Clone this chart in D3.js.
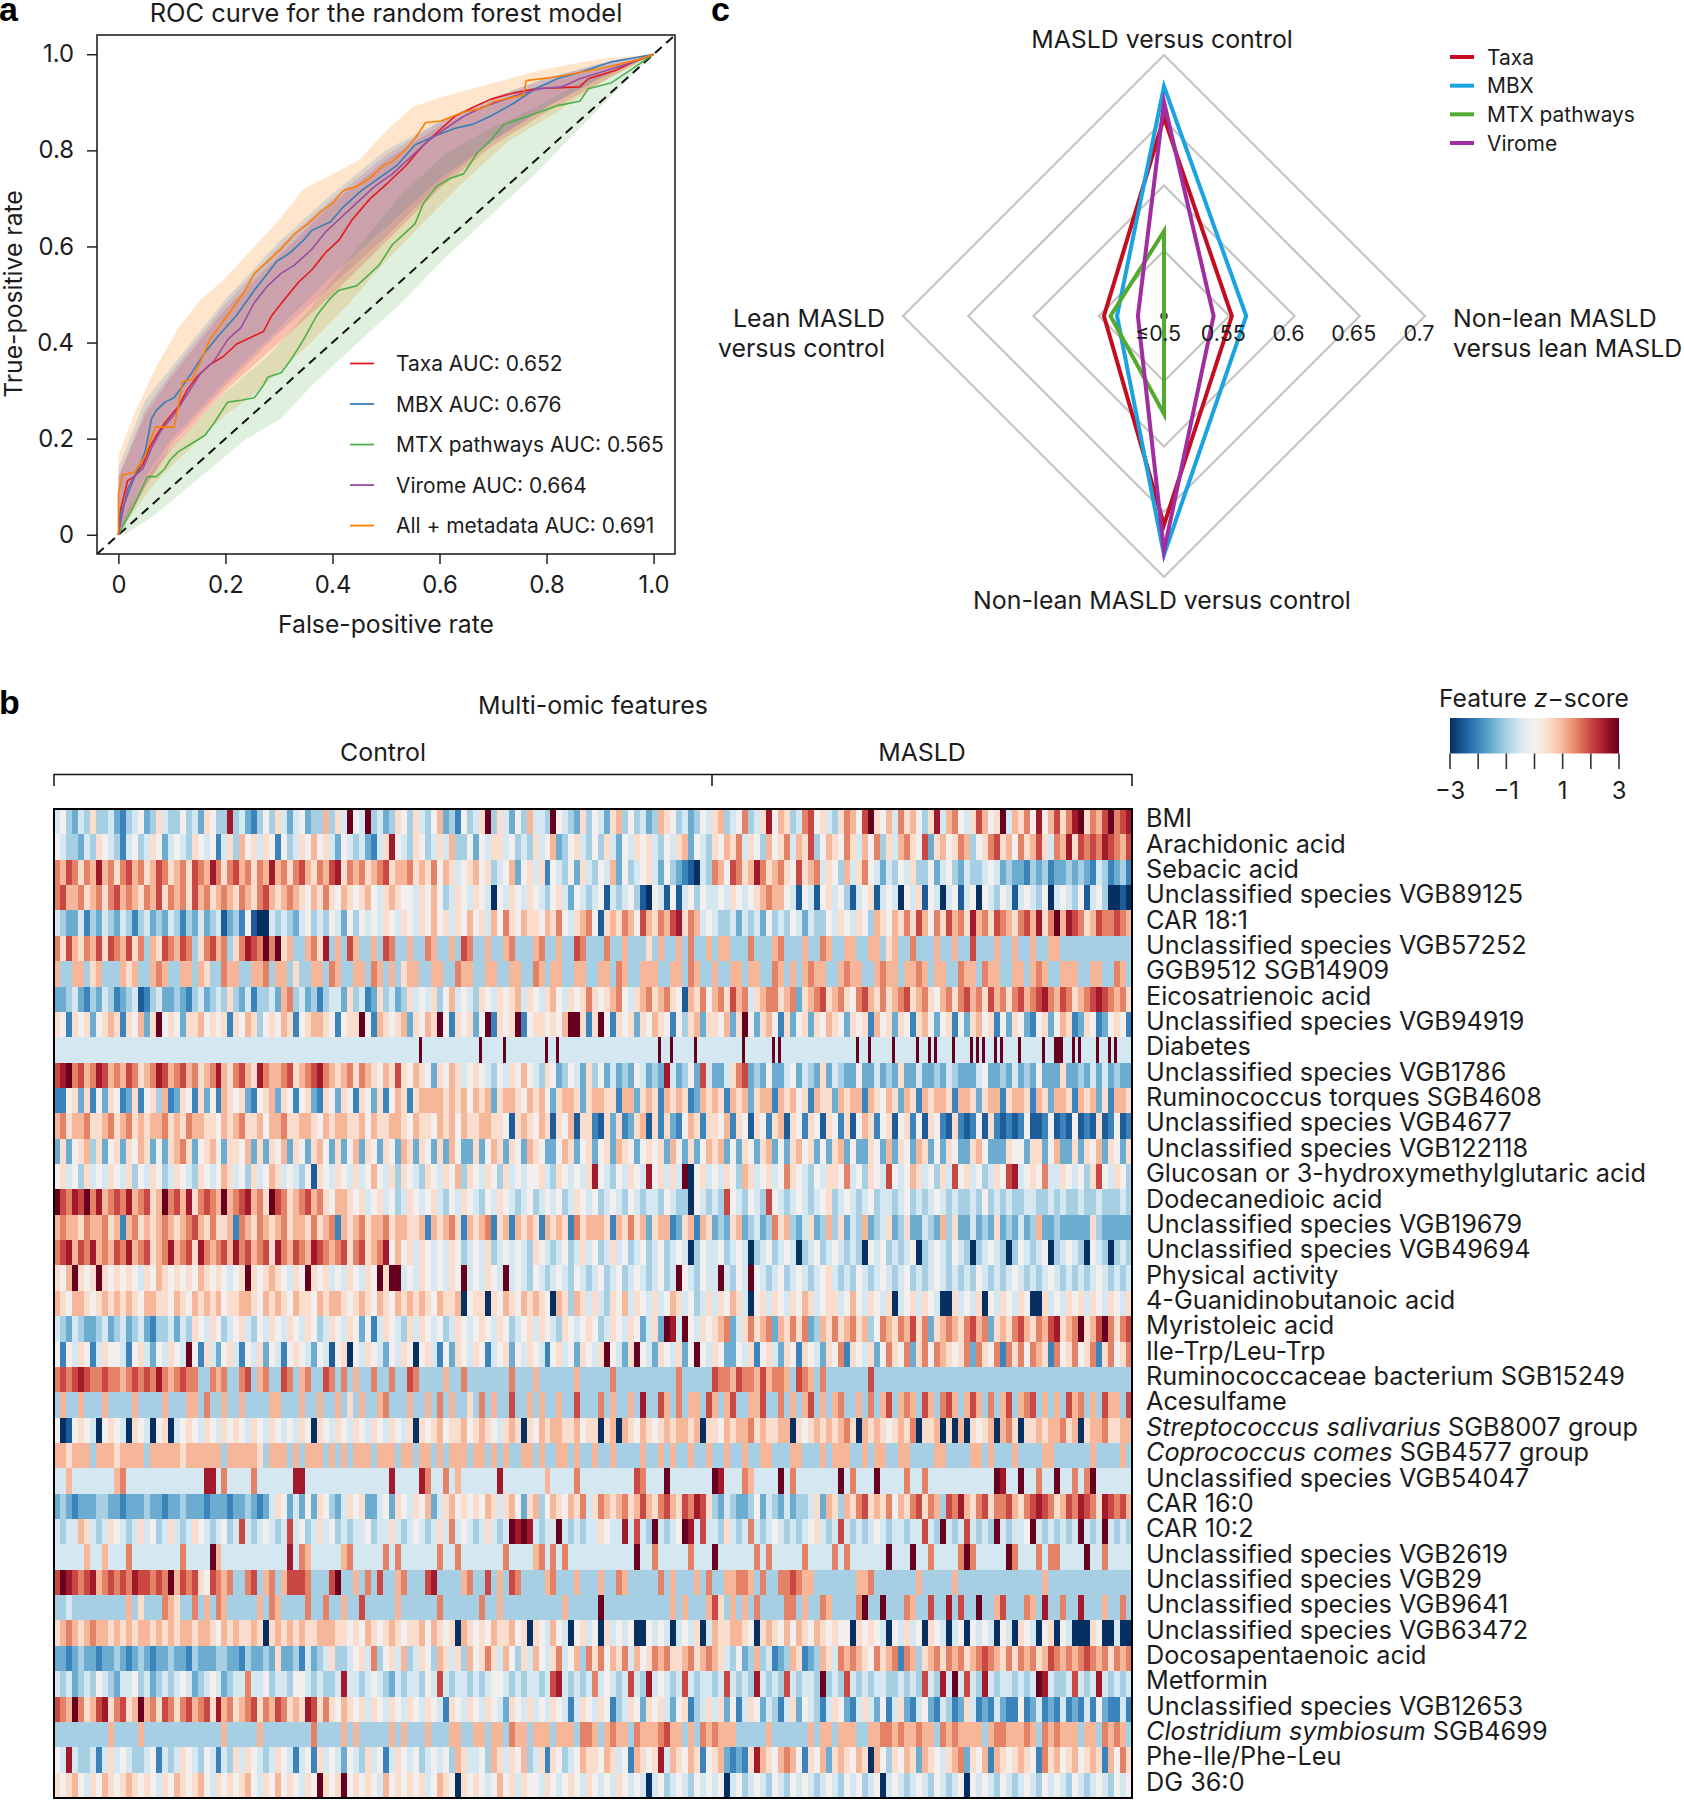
<!DOCTYPE html>
<html><head><meta charset="utf-8">
<script src="https://cdn.jsdelivr.net/npm/d3@7"></script>
<style>
body{margin:0;background:#fff}
svg{display:block}
text{font-family:Inter,"Noto Sans","Liberation Sans",sans-serif;fill:#1c1c1c}
</style>
</head><body>
<svg id="chart" width="1684" height="1800"></svg>
<script>
// ---------------- Panel a: ROC data ----------------
const rocTicks = [0, 0.2, 0.4, 0.6, 0.8, 1.0];
const rocTickLabels = ["0", "0.2", "0.4", "0.6", "0.8", "1.0"];
const rocSeries = ["Taxa", "MBX", "MTX pathways", "Virome", "All + metadata"];
const rocAUC = [0.652, 0.676, 0.565, 0.664, 0.691];
const rocColors = ["#e41a1c", "#377eb8", "#4daf4a", "#984ea3", "#ff7f00"];

const taxaCurve = [[0,0],[0.004,0.052],[0.017,0.112],[0.029,0.121],[0.046,0.147],[0.058,0.181],[0.071,0.207],[0.087,0.233],[0.112,0.267],[0.129,0.302],[0.146,0.328],[0.171,0.354],[0.196,0.371],[0.221,0.397],[0.246,0.41],[0.271,0.423],[0.287,0.457],[0.312,0.492],[0.337,0.526],[0.362,0.552],[0.387,0.587],[0.412,0.613],[0.437,0.656],[0.47,0.699],[0.504,0.733],[0.537,0.768],[0.57,0.811],[0.604,0.846],[0.629,0.871],[0.662,0.889],[0.695,0.906],[0.737,0.919],[0.779,0.928],[0.862,0.932],[0.878,0.949],[0.928,0.966],[0.962,0.984],[1,1]];
const mbxCurve = [[0,0],[0.004,0.043],[0.021,0.095],[0.037,0.138],[0.05,0.173],[0.062,0.242],[0.071,0.259],[0.087,0.276],[0.104,0.285],[0.121,0.311],[0.137,0.337],[0.162,0.38],[0.187,0.414],[0.221,0.457],[0.254,0.509],[0.279,0.544],[0.296,0.569],[0.321,0.587],[0.346,0.613],[0.362,0.634],[0.396,0.651],[0.42,0.682],[0.454,0.716],[0.487,0.742],[0.52,0.768],[0.554,0.811],[0.587,0.828],[0.629,0.846],[0.662,0.854],[0.695,0.871],[0.737,0.897],[0.779,0.928],[0.82,0.949],[0.862,0.962],[0.92,0.984],[0.962,0.992],[1,1]];
const mtxCurve = [[0,0],[0.008,0.017],[0.029,0.06],[0.054,0.121],[0.071,0.121],[0.087,0.138],[0.096,0.155],[0.112,0.173],[0.137,0.19],[0.162,0.207],[0.179,0.233],[0.204,0.276],[0.229,0.28],[0.254,0.285],[0.271,0.311],[0.279,0.328],[0.304,0.337],[0.321,0.362],[0.346,0.406],[0.371,0.457],[0.396,0.492],[0.412,0.509],[0.445,0.518],[0.462,0.535],[0.487,0.561],[0.512,0.604],[0.529,0.621],[0.554,0.647],[0.57,0.69],[0.595,0.725],[0.62,0.742],[0.645,0.751],[0.67,0.794],[0.695,0.82],[0.72,0.854],[0.754,0.867],[0.787,0.88],[0.82,0.893],[0.862,0.902],[0.878,0.928],[0.92,0.94],[0.962,0.971],[1,1]];
const viromeCurve = [[0,0],[0.004,0.026],[0.017,0.095],[0.029,0.121],[0.046,0.138],[0.062,0.181],[0.079,0.216],[0.104,0.25],[0.129,0.293],[0.154,0.337],[0.179,0.362],[0.204,0.406],[0.229,0.431],[0.254,0.483],[0.279,0.518],[0.304,0.544],[0.329,0.561],[0.362,0.595],[0.387,0.63],[0.412,0.656],[0.445,0.69],[0.479,0.725],[0.512,0.751],[0.545,0.785],[0.579,0.82],[0.612,0.846],[0.645,0.871],[0.679,0.889],[0.712,0.902],[0.745,0.915],[0.787,0.928],[0.828,0.932],[0.862,0.949],[0.912,0.966],[0.962,0.984],[1,1]];
const allCurve = [[0,0],[0,0.086],[0.008,0.125],[0.03,0.13],[0.04,0.147],[0.05,0.164],[0.06,0.198],[0.07,0.224],[0.104,0.224],[0.112,0.267],[0.12,0.319],[0.137,0.323],[0.154,0.362],[0.171,0.406],[0.187,0.431],[0.204,0.457],[0.221,0.483],[0.237,0.509],[0.254,0.544],[0.279,0.569],[0.304,0.595],[0.329,0.626],[0.354,0.647],[0.379,0.673],[0.4,0.69],[0.42,0.716],[0.445,0.725],[0.47,0.742],[0.495,0.768],[0.512,0.777],[0.533,0.798],[0.554,0.824],[0.574,0.858],[0.603,0.861],[0.645,0.88],[0.678,0.887],[0.703,0.902],[0.757,0.915],[0.762,0.945],[0.82,0.953],[0.862,0.962],[0.92,0.975],[0.97,0.988],[1,1]];

const taxaBandUpper = [[0,0.12],[0.05,0.25],[0.1,0.33],[0.2,0.47],[0.3,0.58],[0.4,0.69],[0.5,0.78],[0.6,0.85],[0.7,0.9],[0.8,0.94],[0.9,0.97],[1,1]];
const taxaBandLower = [[0,0],[0.05,0.1],[0.1,0.18],[0.2,0.3],[0.3,0.4],[0.4,0.5],[0.5,0.61],[0.6,0.72],[0.7,0.81],[0.8,0.88],[0.9,0.94],[1,1]];
const mbxBandUpper = [[0,0.14],[0.05,0.28],[0.1,0.35],[0.2,0.49],[0.3,0.61],[0.4,0.71],[0.5,0.8],[0.6,0.86],[0.7,0.91],[0.8,0.95],[0.9,0.98],[1,1]];
const mbxBandLower = [[0,0],[0.05,0.12],[0.1,0.2],[0.2,0.32],[0.3,0.43],[0.4,0.54],[0.5,0.64],[0.6,0.74],[0.7,0.82],[0.8,0.89],[0.9,0.95],[1,1]];
const mtxBandUpper = [[0,0.02],[0.07,0.147],[0.129,0.216],[0.196,0.293],[0.279,0.371],[0.362,0.475],[0.445,0.595],[0.529,0.708],[0.612,0.794],[0.695,0.846],[0.779,0.889],[0.862,0.94],[1,1]];
const mtxBandLower = [[0.012,0],[0.07,0.043],[0.154,0.121],[0.237,0.198],[0.304,0.242],[0.362,0.311],[0.445,0.397],[0.529,0.483],[0.612,0.578],[0.695,0.664],[0.779,0.751],[0.862,0.846],[0.945,0.94],[1,1]];
const viromeBandUpper = [[0,0.12],[0.05,0.26],[0.1,0.34],[0.2,0.48],[0.3,0.6],[0.4,0.7],[0.5,0.79],[0.6,0.86],[0.7,0.91],[0.8,0.95],[0.9,0.98],[1,1]];
const viromeBandLower = [[0,0],[0.05,0.1],[0.1,0.19],[0.2,0.31],[0.3,0.42],[0.4,0.52],[0.5,0.62],[0.6,0.73],[0.7,0.82],[0.8,0.89],[0.9,0.95],[1,1]];
const allBandUpper = [[0,0.164],[0.029,0.25],[0.071,0.35],[0.112,0.43],[0.154,0.49],[0.196,0.53],[0.246,0.59],[0.296,0.65],[0.346,0.72],[0.4,0.75],[0.45,0.78],[0.5,0.84],[0.55,0.89],[0.6,0.91],[0.7,0.94],[0.8,0.97],[0.9,0.99],[1,1]];
const allBandLower = [[0,0],[0.03,0.05],[0.07,0.11],[0.11,0.155],[0.154,0.2],[0.2,0.25],[0.246,0.285],[0.3,0.34],[0.36,0.4],[0.43,0.48],[0.5,0.57],[0.57,0.65],[0.65,0.74],[0.73,0.82],[0.82,0.88],[0.9,0.94],[1,1]];

// ---------------- Panel c: radar data ----------------
const radarAxes = ["MASLD versus control", "Non-lean MASLD versus lean MASLD", "Non-lean MASLD versus control", "Lean MASLD versus control"];
const radarSeries = ["Taxa", "MBX", "MTX pathways", "Virome"];
const radarTaxa = [0.652, 0.552, 0.660, 0.546];
const radarMBX = [0.676, 0.563, 0.683, 0.536];
const radarMTX = [0.565, 0.500, 0.575, 0.541];
const radarVirome = [0.664, 0.538, 0.680, 0.520];
const radarColors = ["#c40d1e", "#1ba3df", "#52ab2e", "#a02ea0"];
const radarRings = [0.55, 0.6, 0.65, 0.7];
const radarRingTicks = [0.5, 0.55, 0.6, 0.65, 0.7];
const radarRingLabels = ["≤0.5", "0.55", "0.6", "0.65", "0.7"];

// ---------------- Panel b: heatmap data ----------------
// z-score codes: a=-3, b=-2.5, c=-2, d=-1.5, e=-1, f=-0.5, g=0, h=0.5, i=1, j=1.5, k=2, l=2.5, m=3
const groups = ["Control", "MASLD"];
const colorTicks = [-3, -2, -1, 0, 1, 2, 3];
const colorTickLabels = ["−3", "", "−1", "", "1", "", "3"];
const italicNames = ["Streptococcus salivarius", "Coprococcus comes", "Clostridium symbiosum"];
const heatRows = ["BMI","Arachidonic acid","Sebacic acid","Unclassified species VGB89125","CAR 18:1","Unclassified species VGB57252","GGB9512 SGB14909","Eicosatrienoic acid","Unclassified species VGB94919","Diabetes","Unclassified species VGB1786","Ruminococcus torques SGB4608","Unclassified species VGB4677","Unclassified species VGB122118","Glucosan or 3-hydroxymethylglutaric acid","Dodecanedioic acid","Unclassified species VGB19679","Unclassified species VGB49694","Physical activity","4-Guanidinobutanoic acid","Myristoleic acid","Ile-Trp/Leu-Trp","Ruminococcaceae bacterium SGB15249","Acesulfame","Streptococcus salivarius SGB8007 group","Coprococcus comes SGB4577 group","Unclassified species VGB54047","CAR 16:0","CAR 10:2","Unclassified species VGB2619","Unclassified species VGB29","Unclassified species VGB9641","Unclassified species VGB63472","Docosapentaenoic acid","Metformin","Unclassified species VGB12653","Clostridium symbiosum SGB4699","Phe-Ile/Phe-Leu","DG 36:0"];
const heatControl = [
"fgedfeheef dcefgdehfe egefdhgeel efdcegehfd fgdeeiehfm gfmefdehge hfegidecge fhmehfdgei ffemgfedhe gfdhiegefd eihgefdegf",
"gfeedfehgf ecfgefhgdf gfehgfgcfh eighfhgcge fhgighfdgf efdcfhlgfe hgefhfieeg dgfhhfgefe hfgideghfe gehfdgfhgh fegfhidgfe",
"jikjhjilij hjkijhikjh ijhkjiljhj kijhjilijh jkihjiklhj ijhijkhiij hihjgihfgh ighefgidgh fhcgfegdhf egfidgefgh fdgedcbafe",
"jkiijhijhj kijihjikhj ijhkijhiji hjihjkihij ihgihjhgih ghigfhihgg fhgigefhgf hgfagfhgfh gfeghfdgfe fgbfefgeba gfbgbfgegf",
"feddfcedfe dfecefdedf ecedfdefbd ecgbaafefe dfgefegfdg egfgfhgfhg fhgighfhgi ghfigjhgih hgihjgfhij gbhihjigki hjiklhjifg",
"jhkihjikhk jikhjeihkj ikjehjkije hjlkjmjmhi eeijhleiek ieeiekjeei eejieeiekj eeieeijeee ijeeieekje eejeeieeeh eieeiejeei",
"ieeiiehiee eihieeijie eiieiheeji ieeiijeiie heeiiejiee iiejieiehi ieeiieejii eeiieeiiee jieiieeiie eiiejieeii ieeiiejiee",
"ddefdcedfe cdefbcefdd edcefdefeh edfceefdij efdeceffdh efcdhefdeh fgfhegifgf ehgfhghifh gfhigfhghj hghijgfhij hijhgbihjg",
"hgchghdghi hchgidhmgh gdhhighghc hgiheghgih cghiihgcgh hmgcihghid hgihmgchgh dgmchghmcg hhghgimmhc hmgchghdhg ihgcgehidh",
"ffffffffff ffffffffff ffffffffff ffffffffff ffffffffff ffffffffff ffffffffff ffffffffff ffffffffff ffffffffff ffffffffff ffffffffff ffmfffffff ffffffffff ffmfffffff mfffffffff ffffmfffmf ffffffffff ffffffffff ffffffffff ffmfffmfff ffffmfffff",
"klmjkijlki jikjhijlki jkijhijlih jkihljiijk hijkljihij hjihgihkhg ihgdhgihfg hgfegfhgig fehgdegfdh egdfdedgfd edlfdegdkf",
"ccghdhcgdh gcdhcgheic dhgchdgcih ghdcghidhg cghdchgdhg chgdhcgihc hiiiihihig ihidhiihgi higdhiihdh iihhciidhi hcihihcdih",
"ijhiijhhij hijhihiijh ihjiihhgih ijhhigiijh hiihgihiih higihhiihg ihhgihigih hiihhgbhih gihbhgibhh cbhdhcdhib hchdcgihch",
"dhdghiehdg hdhgihdgdh ijhdghigdh hgidhdhgid hgdhigdhdg idhgdhgdih dhgdhdigdd hdgihdhgdi hgddgihdgh dghdihgdgh ghdigdhdgi",
"ghfgehfgfh gfhegfhgef hgfehgfgih fgehfgihfg fegbhgfhgf hfgigfhehg fehgfhgieh gfhgehfgfg ghfehgfgfh lgfegfhgfl ghfhfmaghf",
"mkjlkmjlij kjlijkhimj kilhjkjimi jklijhmkjh ijkijhgiih ghfghfgefh gfghfegfhg fegfhgfefg efgfgefhgf gefgfegfef fegfeeagfe",
"ijiihjiijh icijhihiji hijkihjhhi cjihjihijh iihjhijcih ijhiijhiih hicihijhci hijchicihi hcihihcjhi iihcihjhid hiicdhicih",
"jklikjliji kjlijkhijl ijkhljijki ljkijkhlji kjilkjijkh jkhijlgigh fhgfgfhgef gfhefgfgfe hgfefgefhf gefhfgefge fgefgfaegf",
"hgimhghmhg hghgfhgihg hghgihghgf ghmhghihgf hgmhghfgfh gfhgmhmmfg fhgfgfhgmf gfhgfmfgfe gfefgfegfe fgefgefgfe fgefmgfegf",
"ihgiihghih ihihgiihhg ihgihihigh hiihgihihg ihhgihiihg hihgihgihi hihgihhiag hhahgihgih ihgaiheihf hfehgifhgf hfgihfgefh",
"fedfeddefd efdefdceef dfehgfhgef ghfegfhgfh gfhgefhgfh gdgcfhgfeh fhgfgefhgf ghgfhgefgh fhgfehgfgh gefhgfhgdf hdmlfmgfhg",
"gcgfhgcfhg gfcghfdgfh gfmgchfdgh fcgfhdgfcg hgfdgfbgha gfhgfdgfhg aghfcgdhgf hgcfghdgfh gfcghfgdhg fhmgfdhmgf dhgfhdgmgf",
"jkjklkjjkj jijkjkjlji jkjjeejije ejkeijeekj eijeekjeje ieejeejeek jeeeeieeje eeeeeejeee ieeeeeeiee eeejeeeeee eeeejeeeee",
"eieeieeeie eeeieeeeie eeiiejeeie eieeeeiiee eieeieeieh eieeijeeei eeiejeieeh ejeieekeei eieeieekee ejeieeiele ekiejeiiek",
"gabghgfagh gfahgfagha fghgfhgfhg hgfhgfhgfg fhgahgfhgf hgfhgfhgfh ahghighhig hihgfhihah gihiihhigh hahiaihgih ghihiihiah",
"iihiiieiii hiiiieiiii ihiiiiiiei iiiiheiiie ieiiieieie iiieiiieii eiieieiiie iieieieeii eieeiieiee ieeieeeeie eieieeieei",
"ffifffffff ijffffffff fffffllfjf fffjffffff llffffffff fffffflfff fljffjfiff fffflfffff ffiffffjff fffffffkjf ffmfffffff",
"dedcdddeed dcdddeddcd dedddcdddc ddedcdfhgd fdgdhgedfh ghddfgdhgf hgidfhighg hgihfhigdh iegihgihjf hjihijhiki hjkihkjlkh",
"feffihfefh gfefhfgefh fefhgfefge fkfefgfefk fgefhfgefe ffgeffhfef gfefhfjfgf efhfefmlml feffmfefef fhgfflfkfe mfefgmlfkf",
"fffffiffif ffjfffffff fjffffmiff fffffffffl fjifffffij fffffjfjff ffffjffjff fffffjffff ijfjfjffff fffffffmff jfffffjfff",
"kmlkjklijk jkjlkkjkjm ikjkhgkjij eejkeijeik kkjeeekmee iejekeeije eekleeeeij eekeiekjee eeijeeeiee eieejieeee ejeieeeiej",
"eefeeeeeee eeieheeeji heejeiejie eeeeiejiee eejeejeeie ekeeeeeiee eeeejeeeee ejeeieeeee eeeeeieeee emeeeeeeee eeeieieeei",
"hijihijiih ihihiihihi hiihiihgih ihhihahihi hihhiiihhg hgihghihgh higihghaih ghgihhigha hgfigfaghf gahfgfgaag fgfafgfhaf",
"ddcdeddcdd edcdedcdde ddcedddeed dceddedhdd ecfdefheef ghfjeghfie fhgeihfhei ghjhfigehf igfhjfgiej hjgihjfigh jijhhijhij",
"fefdefegfe dffgefdefe fgfdefgfde ffjffgeffe ggfefeeflf fefgfedfef fegfkfeffe fefggfefef fefklfefef jfgfefkfel fgfefkfeff",
"kjimjhiklh jkhimijhkj hjkijkhlij hijkhjikjh ihlkhjhgih ghfhgfhgfh gfhgfchgfh gfhgfdhgfh fgfhgfcfhg fhgcefhgdh ghfdghcefh",
"eeeeeeeeei eeeeieeeee eeeeeeeeie eeeeieeeee eeejeeeeie ieeeeeieie eeieeeiiee iieiiejiie iiieiiiejj ieijiiejii ijkiieieji",
"gflfeefcfh fgfeefgcfe fhgfegfcfe hfhgfefhgf cfgchfgfdg fehfgcfhgf gefgfgeihf fgeihfhgie fhchgefgih hgihfgcihg hlfihgihcg",
"hghigfhgih ghihghgfhg ihghigfhgh ghigfhgigh gfhgmhghmg hghgfighgh ghfgihgahg hgfgighfhg gfhgfghgfh gfgfhgfgfa fgefgfegfg"
];
const heatMASLD = [
"hiefgjefhl gihefjkghf ehjigkmhgi fjhigehlfi jgfhkighmf ihjglgikhj lmhjikmjkl",
"hgihjfhgei ghjfihkegi hgjhfigjeh fijhgkdhig hjieghjkhi gjhikhfjil hkjkjlkjik",
"jigkjhiljh ijhgkhijfh geifhjgfdf egfheegdfg edfeefgfde ddcedecdde dedcfecdec",
"fgfhgfghij iigfbgfbgh fgebfghbfg fagfhbgfaf gbfgagfegf bfgfegafgf egbfgeaaba",
"feefdfefdg efegfdfeeg fhgfhgeihg ihjhkigjhk ijhlijhkji hjkilhjmil kjhikjjkji",
"eiieeejeee ijeeeieeji eeiieeiieh ieejeeeiee ieekeeeiee ieeieeiiee eeeeeeeeee",
"ieeiieiiee jieieijiie eijiieeiji ieiijieiie ejiiejiiee iieijieeii ieeiieejie",
"ijhkijfhij jhijdhijkh ijhgjkihjh ijkhijhgij hjkijhkijh jkijkljikj hijklkjijh",
"hgidhmgdhi gchdghdhgi hgdhghcigh dhgchigdgh cgdhighcgd hgdcghdgih cdhgcdghgc",
"ffffffffff mfffffffff mfmfffffff ffffffffff ffffffffmf ffmfffffff mfffffffmf ffmfmfffff mfffffmfmf mfffmfmfff ffmfffffff mfffmmmfff mfmfffffmf ffmfmfffff",
"ddfhjkdedg ddfgdfedhd feddgddfde dhddfddedf edddfgdded fdedgdddhd dedfdfdedd",
"ihcihidhii cihighcihh dihiicihgi hdihcihiih ciihdhiich iihcihdiih cihidhciih",
"hgichgbhgc hibhgchgbh gchbgihcgh bghcgbhgcb hcbcgbhcbc bcgbbcgbcb gbcbhbcgbc",
"hidgdhgdhi dgdhighdgd hidgddhgdi dhgdihdgdh gddhigdddh ggdhhdgidd hdhgidhgdh",
"gfhgeihfgh fgjhgfegfh hgjfgehgfk gfgihfgehf kghfgefhgk lfghgjffhg fgehkgfhge",
"fekgfegfek gfefgfefgh efgfefgeff efgefefgfe feefegefef eeffeefefe efeefeeefe",
"dedhidefde jhiedfhdei ehdfeidefh dehddfedie hddfdedhde dfdeiddedd dddheddddd",
"fgefgfaefg efgfaefgef gfefeagfge fefgaefgfe gfeaefgfea egfefgaefg feagfeaefe",
"fmfegfmgfe fgefgfefgh fefegfefgf efgefefgfe fefegfefef gfefefgfef efefgfefef",
"fhgihfaghf hgfhgihfgh hfgigfhgfh afghfhgfaa hfgfhagfhg fhgaahfgfh ghfhgfhgfh",
"hijdfhjhij dihjhjdeih jhijhiegji hjikhjdhij ihjkijdhih jkihjiklhi jmhikmjhjk",
"hgddgfhcgh fdhgchgfdh gjchgfhdgj hgjdhjgjih ghjdjhgjcj hjgjihcjgh jghjchjghj",
"kjjikjjiki jjiekjieje eeeeeekeee eeeeeeeeee eeeeeeeeee eeeeeeeeee eeeeeeeeee",
"ieikeeiike ejeieikeie ijeeiejeik eijiekiejk ieikiejeik eijkeieiek ijeiekiiek",
"hgihiijhih hiiahghihi hijhaihihg hihjahhiah aiahghiaij hahhihiijh iahiijhhii",
"eeieeieeii eeeiieeeie iiieeieiie eiieeeeiie eeeiieieee ieeeeiieee eeeieeeeie",
"mlfffjifff fmfjffffff fmfjfffmff ffjffjffff fffffffmlf fmffjffmff jfjmffffff",
"edfeddegdf edfdeefhdi heihjkhihj gihjkhjiek jlihjkhjjk ihjklkjhik jlkjhlkjki",
"fehfefjfef gfefefghfe fkfefefgfe ffeffkfemf efkfefemfe ffgmfefefe fmfefmfefe",
"mffffffjfj fffffjffff jfjffffffm fffmffjfff fjmjfffffm jfffjfjjff ffmffjffff",
"eeiijjieje ejjkjiieee eeeeiijeee eeeeieeeee ieeeeeeeee eeeeeieeee eeeeeeeeee",
"kheieiejee eejjeieeji eeeejmeeme eejieekeel ekeemeeike eejieleeje eleeeieeje",
"ihhiihgahi hgigihgihg hggahghgfa gfhfgahgfa fgagfgfagf ahgfaghagf aaahgaafaa",
"ihfegdeief cdeihcdeih fjijihgjhi jcjiehijhj ijhijkjihj hjijhikjij ijkjijhjij",
"efkfefelfe fekfeffeme fekfefeffe efefekfelf mfkfelfeff efefmlfeef kfeflfefef",
"fhdgcfhgdf ecfhdgfecf hgdcfhfdgc fhdcfgdcfe cdhfcdcfdc cgcdfcdcfc dcfcgdccfc",
"jiiieeeeei eeeeeeieii eiiieeiijj ijiijiieji jiiiieijji iijiejijii ieiiejijie",
"hidcdchlih gijigchgid hihgihaige hgihdihgfh ijdhgicihg hihgcjhigh ighihcigjh",
"fgafgefgfe gfegfgfefg fegfgefgaf gfefgfegfe fgagfgfegf efgfegfgfe gfefgfegfg"
];

// ---------------- Setup ----------------
const svg = d3.select("#chart");
function fitSize(str, target, weight, style) {
  const t = svg.append("text").attr("font-size", 100).attr("font-weight", weight || 400)
    .attr("font-style", style || "normal").text(str);
  const w = t.node().getComputedTextLength();
  t.remove();
  return 100 * target / w;
}
const fsTitle = fitSize("ROC curve for the random forest model", 473);
const fsAxisTitle = fitSize("False-positive rate", 216);
const fsTick = fitSize("1.0", 31);
const fsLegend = fitSize("MTX pathways AUC: 0.565", 268);
const fsRadarLab = fitSize("Non-lean MASLD versus control", 378);
const fsRing = fitSize("0.55", 45);
const fsRadarLeg = fitSize("MTX pathways", 148);
const fsHeatLab = fitSize("Glucosan or 3-hydroxymethylglutaric acid", 500);
const fsHeader = fitSize("Multi-omic features", 230);
const fsCbTitle = fitSize("Feature z-score", 185);

function panelLetter(ch, x, y) {
  svg.append("text").attr("x", x).attr("y", y).text(ch)
    .style("font-family", "'Liberation Sans', Arial, sans-serif")
    .attr("font-weight", 700).attr("font-size", 34).style("fill", "#000");
}
panelLetter("a", -1, 21);
panelLetter("c", 711, 21);
panelLetter("b", -1, 714);

// ---------------- Panel a: ROC ----------------
const rocX = d3.scaleLinear().domain([-0.04, 1.04]).range([97, 675]);
const rocY = d3.scaleLinear().domain([-0.04, 1.04]).range([554, 35]);
const gA = svg.append("g");
gA.append("defs").append("clipPath").attr("id", "rocClip").append("rect")
  .attr("x", rocX(-0.04)).attr("y", rocY(1.04))
  .attr("width", rocX(1.04) - rocX(-0.04)).attr("height", rocY(-0.04) - rocY(1.04));

gA.append("text").attr("x", (rocX(-0.04) + rocX(1.04)) / 2).attr("y", 12)
  .attr("text-anchor", "middle").attr("dominant-baseline", "central")
  .attr("font-size", fsTitle).text("ROC curve for the random forest model");

const line = d3.line().x(d => rocX(d[0])).y(d => rocY(d[1]));
const plot = gA.append("g").attr("clip-path", "url(#rocClip)");
const bands = [
  [allBandUpper, allBandLower, 4],
  [mtxBandUpper, mtxBandLower, 2],
  [taxaBandUpper, taxaBandLower, 0],
  [mbxBandUpper, mbxBandLower, 1],
  [viromeBandUpper, viromeBandLower, 3]
];
bands.forEach(([up, lo, ci]) => {
  plot.append("path").attr("d", line(up.concat(lo.slice().reverse())) + "Z")
    .attr("fill", rocColors[ci]).attr("fill-opacity", ci === 4 ? 0.2 : 0.18).attr("stroke", "none");
});
plot.append("path").attr("d", line([[-0.04, -0.04], [1.04, 1.04]]))
  .attr("stroke", "#111").attr("stroke-width", 2).attr("stroke-dasharray", "9,6").attr("fill", "none");
const curves = [[mtxCurve, 2], [taxaCurve, 0], [mbxCurve, 1], [viromeCurve, 3], [allCurve, 4]];
curves.forEach(([c, ci]) => {
  plot.append("path").attr("d", line(c)).attr("fill", "none")
    .attr("stroke", rocColors[ci]).attr("stroke-width", 1.6).attr("stroke-linejoin", "round");
});
gA.append("rect").attr("x", rocX(-0.04)).attr("y", rocY(1.04))
  .attr("width", rocX(1.04) - rocX(-0.04)).attr("height", rocY(-0.04) - rocY(1.04))
  .attr("fill", "none").attr("stroke", "#222").attr("stroke-width", 1.6);

const xAxis = gA.append("g").attr("transform", `translate(0,${rocY(-0.04)})`)
  .call(d3.axisBottom(rocX).tickValues(rocTicks).tickFormat((d, i) => rocTickLabels[i]).tickSize(10).tickPadding(12));
const yAxis = gA.append("g").attr("transform", `translate(${rocX(-0.04)},0)`)
  .call(d3.axisLeft(rocY).tickValues(rocTicks).tickFormat((d, i) => rocTickLabels[i]).tickSize(10).tickPadding(13));
[xAxis, yAxis].forEach(ax => {
  ax.select(".domain").remove();
  ax.selectAll(".tick line").attr("stroke", "#222").attr("stroke-width", 1.5);
  ax.selectAll(".tick text").attr("font-size", fsTick).style("font-family", "Inter, 'Noto Sans', sans-serif").attr("fill", "#1c1c1c");
});
gA.append("text").attr("x", (rocX(-0.04) + rocX(1.04)) / 2).attr("y", 624)
  .attr("text-anchor", "middle").attr("dominant-baseline", "central")
  .attr("font-size", fsAxisTitle).text("False-positive rate");
gA.append("text").attr("transform", `translate(12.5,${(rocY(-0.04) + rocY(1.04)) / 2 - 0.5}) rotate(-90)`)
  .attr("text-anchor", "middle").attr("dominant-baseline", "central")
  .attr("font-size", fsAxisTitle).text("True-positive rate");

const legY = d3.scalePoint().domain(rocSeries).range([363.5, 525.6]);
rocSeries.forEach((s, i) => {
  gA.append("line").attr("x1", 350).attr("x2", 374).attr("y1", legY(s)).attr("y2", legY(s))
    .attr("stroke", rocColors[i]).attr("stroke-width", 1.8);
  gA.append("text").attr("x", 396).attr("y", legY(s)).attr("dominant-baseline", "central")
    .attr("font-size", fsLegend).text(`${s} AUC: ${rocAUC[i].toFixed(3)}`);
});

// ---------------- Panel c: radar ----------------
const cx = 1164, cy = 316;
const rad = d3.scaleLinear().domain([0.5, 0.7]).range([0, 261]).clamp(true);
const gC = svg.append("g").attr("transform", `translate(${cx},${cy})`);
const radial = d3.lineRadial().angle((d, i) => i * Math.PI / 2).radius(d => rad(d)).curve(d3.curveLinearClosed);
radarRings.forEach(v => {
  gC.append("path").attr("d", radial(radarAxes.map(() => v)))
    .attr("fill", "none").attr("stroke", "#c4c4c4").attr("stroke-width", 2.2);
});
gC.append("circle").attr("r", 3.8).attr("fill", "#444");
const radarData = [radarTaxa, radarMBX, radarMTX, radarVirome];
radarData.forEach((vals, i) => {
  gC.append("path").attr("d", radial(vals)).attr("fill", "none")
    .attr("stroke", radarColors[i]).attr("stroke-width", 4).attr("stroke-linejoin", "miter").attr("stroke-miterlimit", 20);
});
radarRingTicks.forEach((v, i) => {
  gC.append("text").attr("x", rad(v) - 6).attr("y", 16.5).attr("text-anchor", "middle")
    .attr("dominant-baseline", "central").attr("font-size", fsRing).text(radarRingLabels[i]);
});
gC.append("text").attr("x", -2).attr("y", 39 - cy).attr("text-anchor", "middle").attr("dominant-baseline", "central")
  .attr("font-size", fsRadarLab).text(radarAxes[0]);
gC.append("text").attr("x", -2).attr("y", 600 - cy).attr("text-anchor", "middle").attr("dominant-baseline", "central")
  .attr("font-size", fsRadarLab).text(radarAxes[2]);
const leftLines = ["Lean MASLD", "versus control"];
leftLines.forEach((t, i) => {
  gC.append("text").attr("x", 885 - cx).attr("y", 318 - cy + i * 30).attr("text-anchor", "end")
    .attr("dominant-baseline", "central").attr("font-size", fsRadarLab).text(t);
});
const rightLines = ["Non-lean MASLD", "versus lean MASLD"];
rightLines.forEach((t, i) => {
  gC.append("text").attr("x", 1453 - cx).attr("y", 318 - cy + i * 30).attr("text-anchor", "start")
    .attr("dominant-baseline", "central").attr("font-size", fsRadarLab).text(t);
});
const rLegY = d3.scalePoint().domain(radarSeries).range([57, 143]);
radarSeries.forEach((s, i) => {
  svg.append("line").attr("x1", 1450).attr("x2", 1474).attr("y1", rLegY(s)).attr("y2", rLegY(s))
    .attr("stroke", radarColors[i]).attr("stroke-width", 4);
  svg.append("text").attr("x", 1487).attr("y", rLegY(s)).attr("dominant-baseline", "central")
    .attr("font-size", fsRadarLeg).text(s);
});

// ---------------- Panel b: heatmap ----------------
const hmLeft = 54, hmSplit = 712, hmRight = 1132, hmTop = 809, hmBottom = 1798;
const rowY = d3.scaleBand().domain(heatRows).range([hmTop, hmBottom]);
const zColor = d3.scaleDiverging(d3.interpolateRdBu).domain([3, 0, -3]);
const decode = s => s.replace(/\s/g, "").split("").map(ch => (ch.charCodeAt(0) - 97 - 6) * 0.5);
const gB = svg.append("g").attr("shape-rendering", "crispEdges");
heatRows.forEach((name, r) => {
  [[heatControl[r], hmLeft, hmSplit], [heatMASLD[r], hmSplit, hmRight]].forEach(([str, x0, x1]) => {
    const vals = decode(str);
    const xs = d3.scaleLinear().domain([0, vals.length]).range([x0, x1]);
    gB.selectAll(null).data(vals).enter().append("rect")
      .attr("x", (d, i) => xs(i)).attr("y", rowY(name))
      .attr("width", (d, i) => xs(i + 1) - xs(i) + 0.6).attr("height", rowY.bandwidth() + 0.6)
      .attr("fill", d => zColor(d));
  });
});
svg.append("rect").attr("x", hmLeft).attr("y", hmTop).attr("width", hmRight - hmLeft).attr("height", hmBottom - hmTop)
  .attr("fill", "none").attr("stroke", "#000").attr("stroke-width", 2);

heatRows.forEach(name => {
  const t = svg.append("text").attr("x", 1146).attr("y", rowY(name) + rowY.bandwidth() / 2 - 3.5)
    .attr("dominant-baseline", "central").attr("font-size", fsHeatLab);
  const it = italicNames.find(p => name.startsWith(p));
  if (it) {
    t.append("tspan").attr("font-style", "italic").text(it);
    t.append("tspan").text(name.slice(it.length));
  } else t.text(name);
});

svg.append("text").attr("x", (hmLeft + hmRight) / 2).attr("y", 704.5).attr("text-anchor", "middle")
  .attr("dominant-baseline", "central").attr("font-size", fsHeader).text("Multi-omic features");
const grpX = d3.scaleOrdinal().domain(groups).range([(hmLeft + hmSplit) / 2, (hmSplit + hmRight) / 2]);
groups.forEach(g => {
  svg.append("text").attr("x", grpX(g)).attr("y", 751.5).attr("text-anchor", "middle")
    .attr("dominant-baseline", "central").attr("font-size", fsHeader).text(g);
});
svg.append("path").attr("d", `M${hmLeft},786V774.5H${hmRight}V786M${hmSplit},774.5V786`)
  .attr("fill", "none").attr("stroke", "#111").attr("stroke-width", 1.5);

// colour bar
const cbX = d3.scaleLinear().domain([-3, 3]).range([1450, 1619]);
const grad = svg.append("defs").append("linearGradient").attr("id", "cbGrad");
d3.range(0, 1.0001, 0.05).forEach(t => {
  grad.append("stop").attr("offset", t).attr("stop-color", zColor(-3 + 6 * t));
});
svg.append("rect").attr("x", cbX(-3)).attr("y", 718).attr("width", cbX(3) - cbX(-3)).attr("height", 35.5)
  .attr("fill", "url(#cbGrad)");
colorTicks.forEach((v, i) => {
  svg.append("line").attr("x1", cbX(v)).attr("x2", cbX(v)).attr("y1", 753.5).attr("y2", 769)
    .attr("stroke", "#333").attr("stroke-width", 1.6);
  if (colorTickLabels[i]) svg.append("text").attr("x", cbX(v)).attr("y", 790).attr("text-anchor", "middle")
    .attr("dominant-baseline", "central").attr("font-size", fsTick).text(colorTickLabels[i]);
});
const cbt = svg.append("text").attr("x", 1534).attr("y", 698).attr("text-anchor", "middle")
  .attr("dominant-baseline", "central").attr("font-size", fsCbTitle);
cbt.append("tspan").text("Feature ");
cbt.append("tspan").attr("font-style", "italic").text("z");
cbt.append("tspan").text("−score");
</script>
</body></html>
